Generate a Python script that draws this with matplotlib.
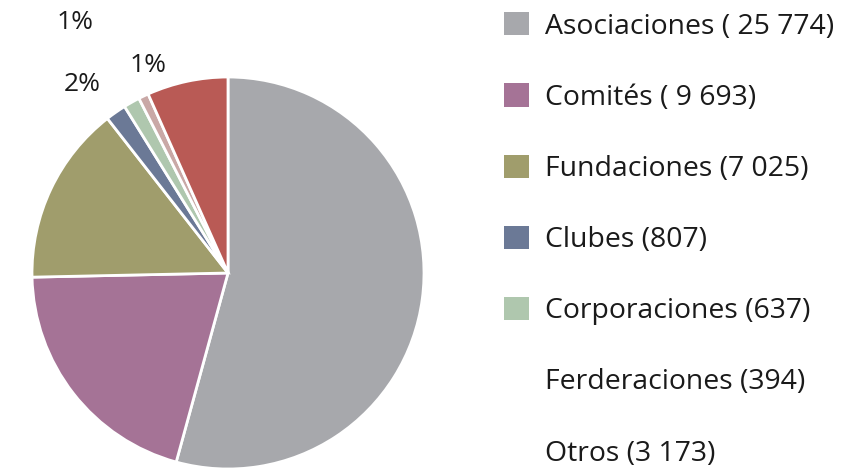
import matplotlib.pyplot as plt
from matplotlib.patches import Rectangle

plt.rcParams['font.family'] = ['Open Sans', 'DejaVu Sans']

# data
categories = ["Asociaciones ( 25 774)", "Comités ( 9 693)", "Fundaciones (7 025)",
              "Clubes (807)", "Corporaciones (637)", "Ferderaciones (394)", "Otros (3 173)"]
values = [25774, 9693, 7025, 807, 637, 394, 3173]
colors = ["#A7A8AC", "#A57396", "#A09D6C", "#6B7996", "#AFC7AE", "#C9A8A6", "#B95A55"]
show_in_legend = [True, True, True, True, True, False, False]

# only some slices carry a percentage label in the original
pct_labels = ["", "", "", "2%", "1%", "1%", ""]
pct_pos = {3: (-0.745, 0.96), 4: (-0.78, 1.28), 5: (-0.41, 1.06)}

W, H = 847, 470
fig = plt.figure(figsize=(W / 100, H / 100), dpi=100)
cx, cy, r = 228, 273, 196
ax = fig.add_axes([(cx - r) / W, (H - cy - r) / H, 2 * r / W, 2 * r / H])

wedges, _ = ax.pie(values, colors=colors, startangle=90, counterclock=False,
                   wedgeprops=dict(edgecolor="white", linewidth=2))
ax.set_xlim(-1, 1)
ax.set_ylim(-1, 1)
ax.set_aspect("equal")

for i, (x, y) in pct_pos.items():
    ax.text(x, y, pct_labels[i], ha="center", va="center", fontsize=19,
            color="#1a1a1a", clip_on=False)

handles = [Rectangle((0, 0), 1, 1, facecolor=c if s else "none", edgecolor="none")
           for c, s in zip(colors, show_in_legend)]
fs = 20.4
fig.legend(handles, categories, loc="upper left",
           bbox_to_anchor=(493 / W, 1 - 1 / H), frameon=False, fontsize=fs,
           labelspacing=1.51, handlelength=0.88, handleheight=0.88,
           handletextpad=0.55, borderaxespad=0, labelcolor="#1a1a1a")

fig.savefig("out.png", dpi=100)
